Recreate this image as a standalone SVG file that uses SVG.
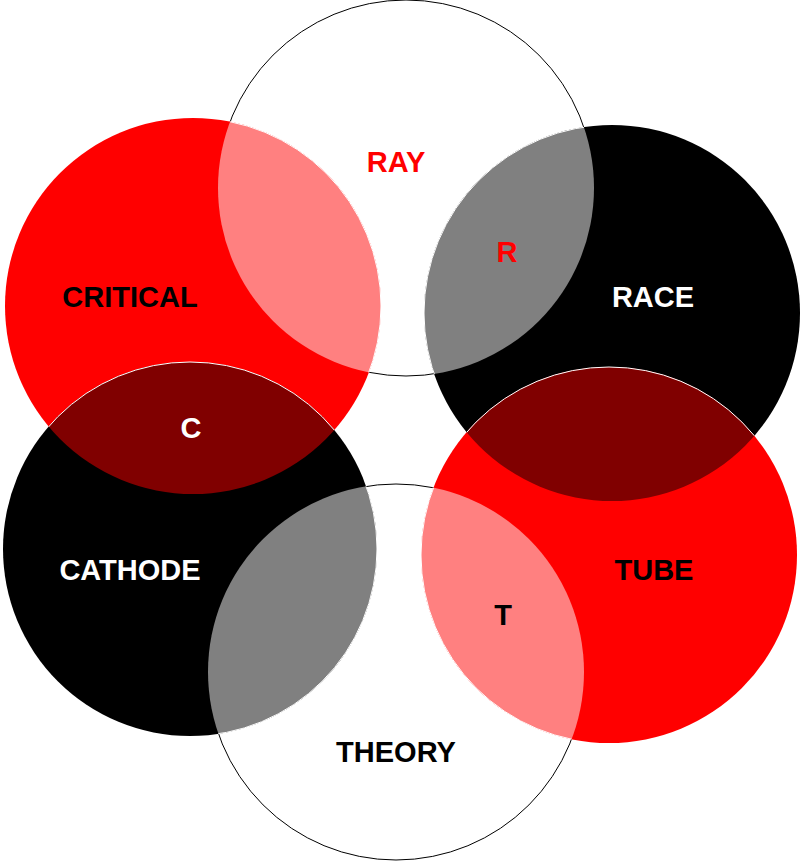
<svg xmlns="http://www.w3.org/2000/svg" width="802" height="862" viewBox="0 0 802 862">
<style>
text{font-family:"Liberation Sans",Arial,sans-serif;font-weight:bold;font-size:29px;text-anchor:middle}
.w{fill:#fff;stroke:#000;stroke-width:1}
</style>
<defs>
<clipPath id="cRay"><circle cx="406" cy="188" r="188"/></clipPath>
<clipPath id="cCrit"><circle cx="193" cy="306" r="188"/></clipPath>
<clipPath id="cRace"><circle cx="612" cy="313" r="188"/></clipPath>
<clipPath id="cCath"><circle cx="190" cy="549" r="187"/></clipPath>
<clipPath id="cTube"><circle cx="609" cy="555" r="188"/></clipPath>
<clipPath id="cTheo"><circle cx="396" cy="672" r="188"/></clipPath>
</defs>
<g id="ray"><circle class="w" cx="406" cy="188" r="188"/></g>
<g id="theory"><circle class="w" cx="396" cy="672" r="188"/></g>
<g id="critical"><circle cx="193" cy="306" r="188" fill="#ff0000"/></g>
<g id="race"><circle cx="612" cy="313" r="188" fill="#000"/></g>
<g id="cathode"><circle cx="190" cy="549" r="187" fill="#000"/></g>
<g id="tube"><circle cx="609" cy="555" r="188" fill="#ff0000"/></g>
<g id="overlaps" stroke="#fff" stroke-width="1">
<circle cx="193" cy="306" r="188" fill="#ff8080" clip-path="url(#cRay)"/>
<circle cx="612" cy="313" r="188" fill="#808080" clip-path="url(#cRay)"/>
<circle cx="190" cy="549" r="187" fill="#800000" clip-path="url(#cCrit)"/>
<circle cx="609" cy="555" r="188" fill="#800000" clip-path="url(#cRace)"/>
<circle cx="190" cy="549" r="187" fill="#808080" clip-path="url(#cTheo)"/>
<circle cx="609" cy="555" r="188" fill="#ff8080" clip-path="url(#cTheo)"/>
</g>
<g id="connectors"/>
<g id="labels">
<text x="396" y="172" fill="#ff0000">RAY</text>
<text x="507" y="262" fill="#ff0000">R</text>
<text x="130" y="307" fill="#000">CRITICAL</text>
<text x="653" y="307" fill="#fff">RACE</text>
<text x="191" y="438" fill="#fff">C</text>
<text x="130" y="580" fill="#fff">CATHODE</text>
<text x="654" y="580" fill="#000">TUBE</text>
<text x="503" y="625" fill="#000">T</text>
<text x="396" y="762" fill="#000">THEORY</text>
</g>
</svg>
